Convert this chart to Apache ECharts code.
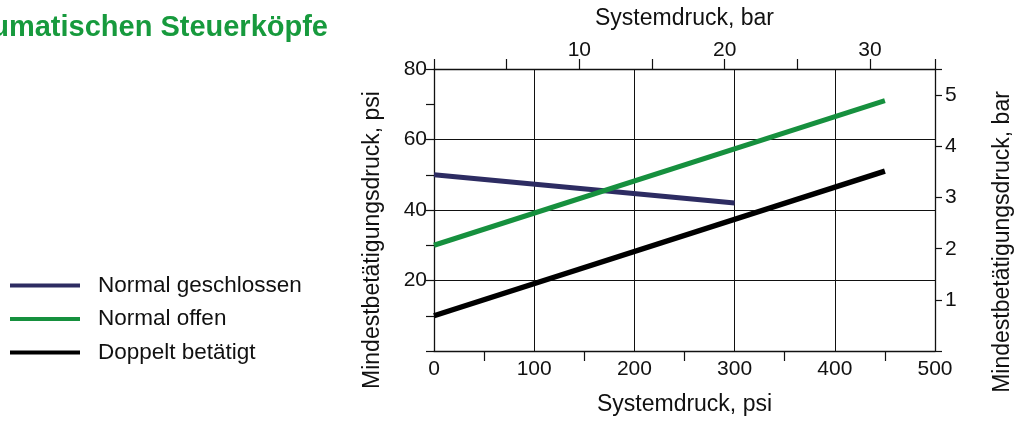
<!DOCTYPE html>
<html>
<head>
<meta charset="utf-8">
<script src="https://cdn.jsdelivr.net/npm/echarts@6/dist/echarts.min.js"></script>
<style>
html,body{margin:0;padding:0;background:#fff;}
#c{width:1021px;height:421px;}
</style>
</head>
<body>
<div id="c"></div>
<script>
// Data (x: Systemdruck psi, y: Mindestbetätigungsdruck psi)
const seriesNames = ['Normal geschlossen', 'Normal offen', 'Doppelt betätigt'];
const normalGeschlossen = [[0, 50], [300, 42]];
const normalOffen = [[0, 30], [450, 71]];
const doppeltBetaetigt = [[0, 10], [450, 51]];
const psiTickLabels = [0, 100, 200, 300, 400, 500];
const leftLabels = [20, 40, 60, 80];
const barTopLabels = [10, 20, 30];
const barRightLabels = [1, 2, 3, 4, 5];
const PSI_PER_BAR = 14.5038;

const colors = ['#2d2c62', '#16903e', '#000000'];
const numFont = "'Liberation Sans', Arial, sans-serif";
const txtFont = "'Liberation Sans', Arial, sans-serif";

const chart = echarts.init(document.getElementById('c'), null, {renderer: 'canvas'});
const axisLineStyle = {color: '#111', width: 1.3};
const tickStyle = {color: '#111', width: 1.2};

chart.setOption({
  animation: false,
  backgroundColor: '#fff',
  graphic: [
    {type: 'text', x: 328, y: 28, style: {text: 'umatischen Steuerköpfe', fill: '#179a3d', font: "bold 29px 'Liberation Sans', Arial, sans-serif", textAlign: 'right', textVerticalAlign: 'middle'}},
    {type: 'text', x: 373, y: 240, rotation: Math.PI / 2, style: {text: 'Mindestbetätigungsdruck, psi', fill: '#111', font: "23px 'Liberation Sans', Arial, sans-serif", textAlign: 'center', textVerticalAlign: 'middle'}},
    {type: 'text', x: 1003, y: 242, rotation: Math.PI / 2, style: {text: 'Mindestbetätigungsdruck, bar', fill: '#111', font: "23px 'Liberation Sans', Arial, sans-serif", textAlign: 'center', textVerticalAlign: 'middle'}}
  ],
  legend: {
    orient: 'vertical',
    left: 10,
    top: 274,
    padding: 0,
    itemWidth: 70,
    itemHeight: 4,
    itemGap: 10.5,
    icon: 'rect',
    data: seriesNames,
    textStyle: {fontFamily: txtFont, fontSize: 22.5, color: '#111', lineHeight: 22, padding: [0, 0, 0, 13]}
  },
  grid: {left: 434, right: 86, top: 69, bottom: 64, containLabel: false},
  xAxis: [
    {
      type: 'value', position: 'bottom', min: 0, max: 500, interval: 100,
      name: 'Systemdruck, psi', nameLocation: 'middle', nameGap: 42,
      nameTextStyle: {fontFamily: txtFont, fontSize: 23, color: '#111'},
      axisLine: {show: true, onZero: false, lineStyle: axisLineStyle},
      axisTick: {show: false},
      minorTick: {show: true, splitNumber: 2, length: 10, lineStyle: tickStyle},
      axisLabel: {margin: 8, fontFamily: numFont, fontSize: 21, color: '#111', customValues: psiTickLabels},
      splitLine: {show: true, lineStyle: {color: '#111', width: 1}}
    },
    {
      type: 'value', position: 'top', min: 0, max: 500 / PSI_PER_BAR, interval: 10,
      name: 'Systemdruck, bar', nameLocation: 'middle', nameGap: 39,
      nameTextStyle: {fontFamily: txtFont, fontSize: 23, color: '#111'},
      axisLine: {show: true, onZero: false, lineStyle: axisLineStyle},
      axisTick: {show: true, inside: false, length: 10, lineStyle: tickStyle},
      minorTick: {show: true, splitNumber: 2, length: 10, lineStyle: tickStyle},
      axisLabel: {margin: 8, fontFamily: numFont, fontSize: 21, color: '#111', customValues: barTopLabels},
      splitLine: {show: false}
    }
  ],
  yAxis: [
    {
      type: 'value', position: 'left', min: 0, max: 80, interval: 20,
      axisLine: {show: true, onZero: false, lineStyle: axisLineStyle},
      axisTick: {show: true, inside: false, length: 8, lineStyle: tickStyle},
      minorTick: {show: true, splitNumber: 2, length: 8, lineStyle: tickStyle},
      axisLabel: {margin: 7, fontFamily: numFont, fontSize: 21, color: '#111', customValues: leftLabels},
      splitLine: {show: true, lineStyle: {color: '#111', width: 1}}
    },
    {
      type: 'value', position: 'right', min: 0, max: 80 / PSI_PER_BAR, interval: 1,
      axisLine: {show: true, onZero: false, lineStyle: axisLineStyle},
      axisTick: {show: true, inside: false, length: 7, lineStyle: tickStyle},
      axisLabel: {margin: 10, fontFamily: numFont, fontSize: 21, color: '#111', customValues: barRightLabels},
      splitLine: {show: false}
    }
  ],
  series: [
    {name: seriesNames[0], type: 'line', xAxisIndex: 0, yAxisIndex: 0, data: normalGeschlossen, showSymbol: false, symbol: 'none', lineStyle: {color: colors[0], width: 5, cap: 'butt'}, itemStyle: {color: colors[0]}, z: 3},
    {name: seriesNames[1], type: 'line', xAxisIndex: 0, yAxisIndex: 0, data: normalOffen, showSymbol: false, symbol: 'none', lineStyle: {color: colors[1], width: 5, cap: 'butt'}, itemStyle: {color: colors[1]}, z: 4},
    {name: seriesNames[2], type: 'line', xAxisIndex: 0, yAxisIndex: 0, data: doppeltBetaetigt, showSymbol: false, symbol: 'none', lineStyle: {color: colors[2], width: 5.5, cap: 'butt'}, itemStyle: {color: colors[2]}, z: 3}
  ]
});
</script>
</body>
</html>
